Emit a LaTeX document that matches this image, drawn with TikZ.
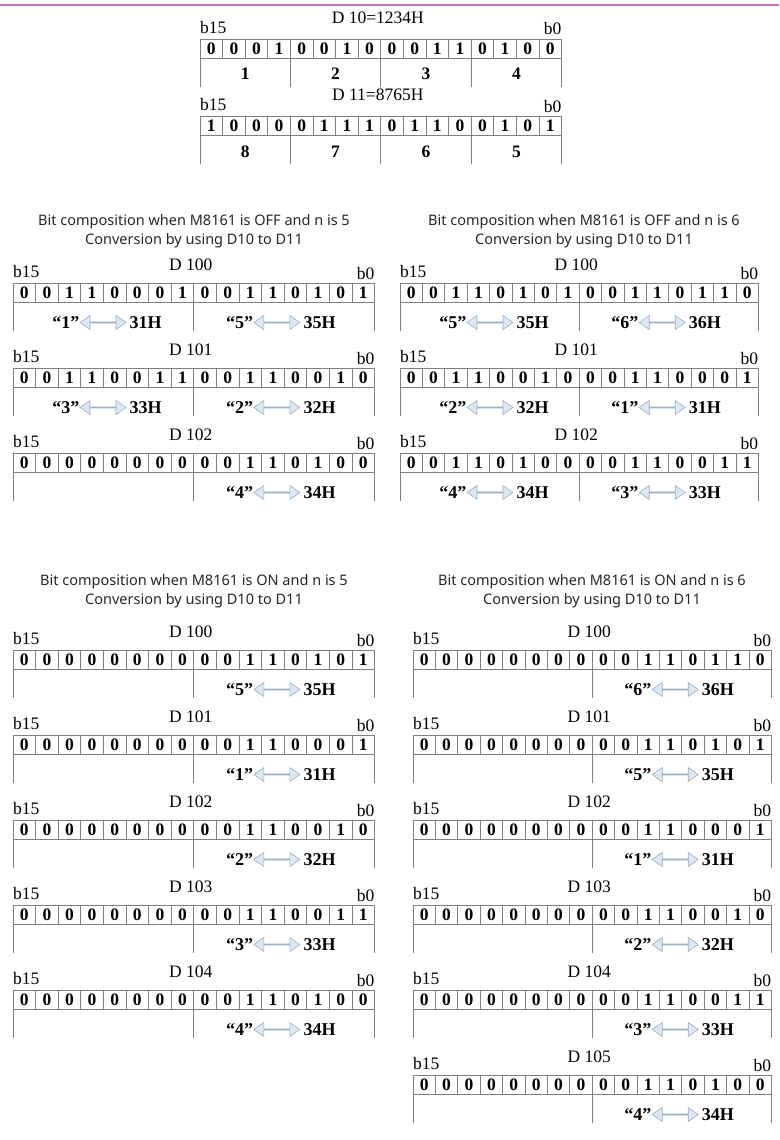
\documentclass[tikz,border=0pt]{standalone}
\usepackage{fontspec}
\setmainfont{Liberation Serif}
\newfontfamily\capfont{Noto Sans}
\usetikzlibrary{calc,positioning,shapes.arrows}
\definecolor{grid}{HTML}{7F7F7F}
\definecolor{rule}{HTML}{C877AE}
\definecolor{pale}{HTML}{DDE7F1}
\definecolor{paleedge}{HTML}{9DAFC2}
\tikzset{
  bitcell/.style={draw=grid,line width=0.7pt,minimum height=19pt,inner sep=0pt,outer sep=0pt,font=\fontsize{17.5}{17.5}\selectfont\bfseries},
  bitmark/.style={inner sep=0pt,font=\fontsize{17.5}{17.5}\selectfont},
  regname/.style={inner sep=0pt,font=\fontsize{17.5}{17.5}\selectfont},
  grouptick/.style={draw=grid,line width=0.7pt},
  nibnum/.style={inner sep=0pt,font=\fontsize{17.5}{17.5}\selectfont\bfseries},
  convarrow/.style={double arrow,draw=paleedge,fill=pale,line width=0.6pt,minimum height=46pt,minimum width=14pt,double arrow head extend=4pt,double arrow tip angle=70,inner sep=0pt},
  pairtext/.style={inner sep=0pt,font=\fontsize{18}{18}\selectfont\bfseries},
  caption/.style={align=center,inner sep=0pt,text=black!85,font=\capfont\fontsize{14.5}{19}\selectfont}
}
% [title raise]{name}{x of b15 edge}{y of row}{cell width}{register}{bits b15..b0}
\newcommand{\bitrow}[7][13]{%
  \foreach \b [count=\i from 0] in {#7}
    \node[bitcell,minimum width=#5] (#2c\i) at ({#3+(\i+0.5)*#5},#4) {\b};
  \node[regname,anchor=base] (#2t) at ({#3+8*#5-3},{#4-9.5-#1}) {#6};
  \node[bitmark,anchor=base west] (#2l) at (#3,{#4-15.5}) {b15};
  \node[bitmark,anchor=base east] (#2r) at ({#3+16*#5},{#4-14}) {b0};
  \draw[grouptick] (#2c0.north west) -- ++(0,47) (#2c7.north east) -- ++(0,47) (#2c15.north east) -- ++(0,47);
}
% {name}{position}{character}{hex code}
\newcommand{\conv}[4]{%
  \node[convarrow] (#1) at #2 {};
  \node[pairtext,anchor=east] (#1q) at (#1.west) {“#3”};
  \node[pairtext,anchor=west] (#1h) at ([xshift=3pt]#1.east) {#4};
}

\begin{document}
\begin{tikzpicture}[x=1pt,y=-1pt]
\fill[white] (0,0) rectangle (779,1140);
\useasboundingbox (0,0) rectangle (779,1140);
\draw[rule,line width=2pt] (0,5) -- (779,5);

% source registers
\bitrow[16]{da}{200}{49}{22.6}{D 10=1234H}{0,0,0,1,0,0,1,0,0,0,1,1,0,1,0,0}
\bitrow[16]{db}{200}{126}{22.6}{D 11=8765H}{1,0,0,0,0,1,1,1,0,1,1,0,0,1,0,1}
\foreach \m in {4,12} \draw[grouptick] (dac\m.north west) -- ++(0,47) (dbc\m.north west) -- ++(0,47);
\foreach \m/\v in {2/1,6/2,10/3,14/4} \node[nibnum] (dan\v) at ($(dac\m.south west)+(0,15)$) {\v};
\foreach \m/\v in {2/8,6/7,10/6,14/5} \node[nibnum] (dbn\v) at ($(dbc\m.south west)+(0,16)$) {\v};

% M8161 OFF
\node[caption] (capfa) at (194,231) {Bit composition when M8161 is OFF and n is 5\\Conversion by using D10 to D11};
\node[caption] (capfb) at (584,231) {Bit composition when M8161 is OFF and n is 6\\Conversion by using D10 to D11};
\bitrow{fa0}{13}{293}{22.6}{D 100}{0,0,1,1,0,0,0,1,0,0,1,1,0,1,0,1}
\conv{fa0x}{($(fa0c0.south west)+(90,20)$)}{1}{31H} \conv{fa0y}{($(fa0c8.south west)+(83,20)$)}{5}{35H}
\bitrow{fa1}{13}{378}{22.6}{D 101}{0,0,1,1,0,0,1,1,0,0,1,1,0,0,1,0}
\conv{fa1x}{($(fa1c0.south west)+(90,20)$)}{3}{33H} \conv{fa1y}{($(fa1c8.south west)+(83,20)$)}{2}{32H}
\bitrow{fa2}{13}{463}{22.6}{D 102}{0,0,0,0,0,0,0,0,0,0,1,1,0,1,0,0}
\conv{fa2y}{($(fa2c8.south west)+(83,20)$)}{4}{34H}
\bitrow{fb0}{400}{293}{22.4}{D 100}{0,0,1,1,0,1,0,1,0,0,1,1,0,1,1,0}
\conv{fb0x}{($(fb0c0.south west)+(90,20)$)}{5}{35H} \conv{fb0y}{($(fb0c8.south west)+(83,20)$)}{6}{36H}
\bitrow{fb1}{400}{378}{22.4}{D 101}{0,0,1,1,0,0,1,0,0,0,1,1,0,0,0,1}
\conv{fb1x}{($(fb1c0.south west)+(90,20)$)}{2}{32H} \conv{fb1y}{($(fb1c8.south west)+(83,20)$)}{1}{31H}
\bitrow{fb2}{400}{463}{22.4}{D 102}{0,0,1,1,0,1,0,0,0,0,1,1,0,0,1,1}
\conv{fb2x}{($(fb2c0.south west)+(90,20)$)}{4}{34H} \conv{fb2y}{($(fb2c8.south west)+(83,20)$)}{3}{33H}

% M8161 ON
\node[caption] (capna) at (194,591) {Bit composition when M8161 is ON and n is 5\\Conversion by using D10 to D11};
\node[caption] (capnb) at (592,591) {Bit composition when M8161 is ON and n is 6\\Conversion by using D10 to D11};
\bitrow{na0}{13}{660}{22.6}{D 100}{0,0,0,0,0,0,0,0,0,0,1,1,0,1,0,1}
\conv{na0y}{($(na0c8.south west)+(83,20)$)}{5}{35H}
\bitrow{na1}{13}{745}{22.6}{D 101}{0,0,0,0,0,0,0,0,0,0,1,1,0,0,0,1}
\conv{na1y}{($(na1c8.south west)+(83,20)$)}{1}{31H}
\bitrow{na2}{13}{830}{22.6}{D 102}{0,0,0,0,0,0,0,0,0,0,1,1,0,0,1,0}
\conv{na2y}{($(na2c8.south west)+(83,20)$)}{2}{32H}
\bitrow{na3}{13}{915}{22.6}{D 103}{0,0,0,0,0,0,0,0,0,0,1,1,0,0,1,1}
\conv{na3y}{($(na3c8.south west)+(83,20)$)}{3}{33H}
\bitrow{na4}{13}{1000}{22.6}{D 104}{0,0,0,0,0,0,0,0,0,0,1,1,0,1,0,0}
\conv{na4y}{($(na4c8.south west)+(83,20)$)}{4}{34H}
\bitrow{nb0}{413}{660}{22.4}{D 100}{0,0,0,0,0,0,0,0,0,0,1,1,0,1,1,0}
\conv{nb0y}{($(nb0c8.south west)+(83,20)$)}{6}{36H}
\bitrow{nb1}{413}{745}{22.4}{D 101}{0,0,0,0,0,0,0,0,0,0,1,1,0,1,0,1}
\conv{nb1y}{($(nb1c8.south west)+(83,20)$)}{5}{35H}
\bitrow{nb2}{413}{830}{22.4}{D 102}{0,0,0,0,0,0,0,0,0,0,1,1,0,0,0,1}
\conv{nb2y}{($(nb2c8.south west)+(83,20)$)}{1}{31H}
\bitrow{nb3}{413}{915}{22.4}{D 103}{0,0,0,0,0,0,0,0,0,0,1,1,0,0,1,0}
\conv{nb3y}{($(nb3c8.south west)+(83,20)$)}{2}{32H}
\bitrow{nb4}{413}{1000}{22.4}{D 104}{0,0,0,0,0,0,0,0,0,0,1,1,0,0,1,1}
\conv{nb4y}{($(nb4c8.south west)+(83,20)$)}{3}{33H}
\bitrow{nb5}{413}{1085}{22.4}{D 105}{0,0,0,0,0,0,0,0,0,0,1,1,0,1,0,0}
\conv{nb5y}{($(nb5c8.south west)+(83,20)$)}{4}{34H}
\end{tikzpicture}
\end{document}
